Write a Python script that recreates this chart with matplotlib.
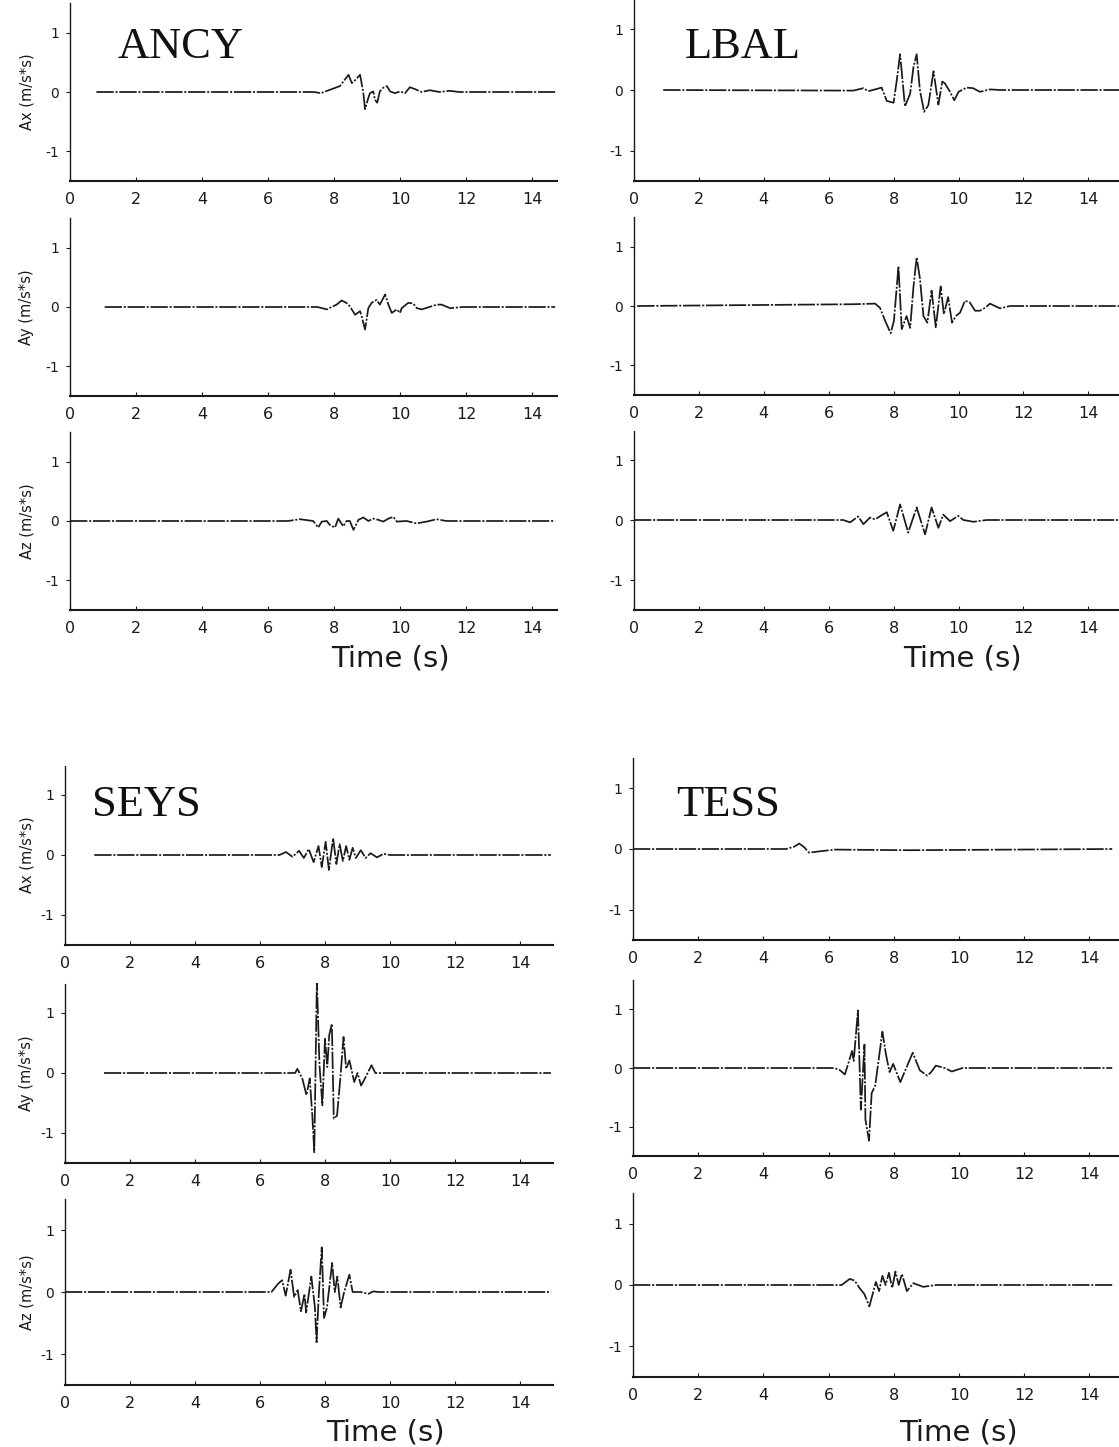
#-- COSTANTI
DPI = 100
W, H = 1119, 1447   # dimensione figura in pixel

import numpy as np
import matplotlib
matplotlib.use("Agg")
import matplotlib.pyplot as plt

plt.rcParams['axes.unicode_minus'] = False


#--------------------#
#       DATI         #
#--------------------#
# tempi (s) e accelerazioni (m/s*s)

# ANCY
ancy_ax_t = [0.8, 7.4, 7.6, 8.18, 8.29, 8.44, 8.54, 8.64, 8.79, 8.89, 8.94, 9.04, 9.09, 9.19, 9.24, 9.31, 9.39, 9.49, 9.6, 9.7, 9.85, 10.0, 10.15, 10.3, 10.45, 10.65, 10.9, 11.2, 11.5, 11.8, 14.7]
ancy_ax_a = [0, 0, -0.02, 0.1, 0.18, 0.29, 0.15, 0.2, 0.29, -0.02, -0.29, -0.1, -0.02, 0.01, -0.13, -0.18, 0.01, 0.07, 0.1, 0.01, -0.02, 0.01, -0.02, 0.08, 0.05, 0, 0.03, 0, 0.02, 0, 0]
ancy_ay_t = [1.05, 7.5, 7.78, 8.08, 8.23, 8.38, 8.48, 8.64, 8.79, 8.84, 8.94, 9.04, 9.14, 9.29, 9.39, 9.55, 9.65, 9.75, 9.9, 10.0, 10.05, 10.25, 10.4, 10.51, 10.66, 11.11, 11.26, 11.52, 11.9, 14.7]
ancy_ay_a = [0, 0, -0.04, 0.04, 0.11, 0.07, 0.01, -0.13, -0.07, -0.16, -0.38, -0.02, 0.07, 0.12, 0.04, 0.21, 0.04, -0.1, -0.04, -0.1, -0.02, 0.07, 0.06, -0.02, -0.04, 0.04, 0.04, -0.02, 0, 0]
ancy_az_t = [0.0, 6.6, 6.97, 7.37, 7.52, 7.63, 7.78, 7.88, 8.03, 8.13, 8.28, 8.38, 8.48, 8.59, 8.74, 8.89, 9.04, 9.19, 9.34, 9.49, 9.65, 9.8, 9.9, 10.2, 10.5, 10.81, 11.11, 11.41, 14.7]
ancy_az_a = [0, 0, 0.03, 0, -0.11, -0.01, 0, -0.07, -0.11, 0.04, -0.09, 0, 0, -0.15, 0.02, 0.06, 0, 0.04, 0.02, -0.01, 0.04, 0.07, -0.01, 0, -0.04, -0.01, 0.03, 0, 0]

# LBAL
lbal_ax_t = [0.9, 6.76, 7.07, 7.22, 7.43, 7.63, 7.79, 8.0, 8.1, 8.2, 8.35, 8.51, 8.61, 8.71, 8.81, 8.94, 9.07, 9.23, 9.38, 9.5, 9.58, 9.74, 9.87, 10.0, 10.25, 10.45, 10.66, 10.97, 11.28, 14.95]
lbal_ax_a = [0, -0.01, 0.03, -0.02, 0.01, 0.04, -0.18, -0.21, 0.17, 0.59, -0.27, -0.06, 0.37, 0.59, 0, -0.36, -0.25, 0.31, -0.24, 0.14, 0.11, -0.03, -0.17, -0.03, 0.04, 0.03, -0.03, 0.01, 0, 0]
lbal_ay_t = [0.1, 6.76, 7.43, 7.58, 7.74, 7.91, 8.01, 8.15, 8.25, 8.4, 8.51, 8.61, 8.71, 8.81, 8.92, 9.04, 9.17, 9.3, 9.45, 9.55, 9.68, 9.8, 9.92, 10.05, 10.2, 10.35, 10.51, 10.66, 10.82, 10.97, 11.28, 11.59, 14.95]
lbal_ay_a = [0, 0.03, 0.04, -0.03, -0.25, -0.46, -0.25, 0.67, -0.39, -0.17, -0.37, 0.31, 0.82, 0.47, -0.17, -0.28, 0.26, -0.36, 0.33, -0.14, 0.15, -0.28, -0.17, -0.11, 0.09, 0.06, -0.08, -0.08, -0.03, 0.04, -0.04, 0, 0]
lbal_az_t = [0.0, 6.45, 6.66, 6.91, 7.07, 7.27, 7.43, 7.63, 7.79, 7.99, 8.2, 8.45, 8.71, 8.97, 9.17, 9.38, 9.53, 9.74, 9.99, 10.15, 10.46, 10.87, 14.95]
lbal_az_a = [0, 0, -0.04, 0.06, -0.07, 0.04, 0.01, 0.08, 0.13, -0.18, 0.26, -0.21, 0.21, -0.24, 0.21, -0.13, 0.09, -0.02, 0.07, 0, -0.03, 0, 0]

# SEYS
seys_ax_t = [0.9, 6.6, 6.8, 7.0, 7.2, 7.35, 7.5, 7.65, 7.8, 7.9, 8.02, 8.12, 8.25, 8.35, 8.45, 8.55, 8.65, 8.75, 8.85, 8.95, 9.1, 9.25, 9.4, 9.6, 9.8, 10.0, 14.95]
seys_ax_a = [0, 0, 0.05, -0.03, 0.07, -0.05, 0.1, -0.12, 0.15, -0.2, 0.22, -0.25, 0.28, -0.15, 0.18, -0.1, 0.15, -0.08, 0.12, -0.05, 0.08, -0.05, 0.03, -0.04, 0.02, 0, 0]
seys_ay_t = [1.2, 7.08, 7.15, 7.3, 7.43, 7.53, 7.61, 7.67, 7.75, 7.83, 7.92, 8.0, 8.07, 8.13, 8.21, 8.27, 8.37, 8.47, 8.57, 8.65, 8.75, 8.9, 9.0, 9.11, 9.23, 9.43, 9.55, 14.95]
seys_ay_a = [0, 0, 0.07, -0.09, -0.37, -0.09, -0.71, -1.32, 1.55, 0.13, -0.54, 0.57, 0.1, 0.63, 0.82, -0.76, -0.71, -0.1, 0.6, 0.07, 0.21, -0.15, 0, -0.21, -0.09, 0.13, 0, 0]
seys_az_t = [0.0, 6.35, 6.57, 6.68, 6.79, 6.94, 7.05, 7.16, 7.26, 7.37, 7.42, 7.58, 7.69, 7.74, 7.81, 7.9, 7.97, 8.06, 8.22, 8.3, 8.38, 8.48, 8.59, 8.75, 8.85, 9.1, 9.33, 9.49, 9.65, 14.95]
seys_az_a = [0, 0, 0.14, 0.19, -0.06, 0.36, -0.08, 0.03, -0.31, -0.03, -0.33, 0.25, -0.25, -0.81, -0.03, 0.72, -0.42, -0.25, 0.47, 0, 0.25, -0.25, 0, 0.28, 0, 0, -0.03, 0.01, 0, 0]

# TESS
tess_ax_t = [0.0, 4.7, 4.95, 5.1, 5.25, 5.4, 5.7, 6.2, 8.5, 14.7]
tess_ax_a = [0, 0, 0.04, 0.09, 0.03, -0.06, -0.04, -0.01, -0.02, 0]
tess_ay_t = [0.0, 6.17, 6.33, 6.5, 6.72, 6.77, 6.9, 6.99, 7.1, 7.13, 7.24, 7.32, 7.43, 7.65, 7.76, 7.87, 7.98, 8.2, 8.58, 8.8, 9.02, 9.13, 9.29, 9.56, 9.78, 10.11, 14.7]
tess_ay_a = [0, 0, -0.03, -0.11, 0.29, 0.12, 0.98, -0.71, 0.4, -0.88, -1.24, -0.43, -0.3, 0.62, 0.23, -0.07, 0.07, -0.24, 0.26, -0.04, -0.13, -0.08, 0.04, 0, -0.06, 0, 0]
tess_az_t = [0.0, 6.4, 6.65, 6.8, 6.95, 7.1, 7.25, 7.35, 7.45, 7.55, 7.65, 7.75, 7.85, 7.95, 8.05, 8.15, 8.25, 8.4, 8.6, 8.9, 9.3, 14.7]
tess_az_a = [0, 0, 0.1, 0.07, -0.05, -0.15, -0.35, -0.15, 0.05, -0.1, 0.15, 0.0, 0.2, -0.05, 0.22, 0.0, 0.18, -0.1, 0.03, -0.03, 0.0, 0]

stazioni = ['ANCY', 'LBAL', 'SEYS', 'TESS']
componenti = ['Ax', 'Ay', 'Az']
tracce = {
    'ANCY': [(ancy_ax_t, ancy_ax_a), (ancy_ay_t, ancy_ay_a), (ancy_az_t, ancy_az_a)],
    'LBAL': [(lbal_ax_t, lbal_ax_a), (lbal_ay_t, lbal_ay_a), (lbal_az_t, lbal_az_a)],
    'SEYS': [(seys_ax_t, seys_ax_a), (seys_ay_t, seys_ay_a), (seys_az_t, seys_az_a)],
    'TESS': [(tess_ax_t, tess_ax_a), (tess_ay_t, tess_ay_a), (tess_az_t, tess_az_a)],
}
xticks = [0, 2, 4, 6, 8, 10, 12, 14]
yticks = [-1, 0, 1]


#--------------------#
#   GEOMETRIA (px)   #
#--------------------#
# x dello zero, px per secondo, xmax, pixel dello zero e del fondo per ogni pannello
geo = {
    'ANCY': dict(x0=70,  ux=33.0,  xmax=14.75, zero=[92, 307, 521],    fondo=[181, 396, 610]),
    'LBAL': dict(x0=634, ux=32.45, xmax=14.95, zero=[90, 306, 520],    fondo=[181, 395, 610]),
    'SEYS': dict(x0=65,  ux=32.5,  xmax=15.0,  zero=[855, 1073, 1292], fondo=[945, 1163, 1385]),
    'TESS': dict(x0=633, ux=32.6,  xmax=14.9,  zero=[849, 1068, 1285], fondo=[940, 1156, 1377]),
}
titoli_pos = {'ANCY': (118, 58), 'LBAL': (685, 58), 'SEYS': (92, 816), 'TESS': (676, 816)}
tempo_pos = [(390, 658), (962, 658), (385, 1433), (958, 1433)]

NERO = '#1a1a1a'
STILE = (0, (10, 1.0, 1.2, 1.0))   # tratteggio leggero "da scanner"


fig = plt.figure(figsize=(W/DPI, H/DPI), dpi=DPI)
fig.patch.set_facecolor('white')


def pannello(staz, i):
    g = geo[staz]
    zero, fondo = g['zero'][i], g['fondo'][i]
    uy = (fondo - zero)/1.5
    alto = fondo - 3*uy
    larg = g['xmax']*g['ux']
    ax = fig.add_axes([g['x0']/W, 1 - fondo/H, larg/W, (fondo - alto)/H])
    t, a = tracce[staz][i]
    ax.plot(t, a, color=NERO, lw=1.25, linestyle=STILE)
    ax.set_xlim(0, g['xmax'])
    ax.set_ylim(-1.5, 1.5)
    ax.set_facecolor('none')
    for s in ['top', 'right']:
        ax.spines[s].set_visible(False)
    for s in ['left', 'bottom']:
        ax.spines[s].set_linestyle(STILE)
        ax.spines[s].set_color(NERO)
    ax.spines['bottom'].set_linewidth(1.5)
    ax.spines['left'].set_linewidth(1.0)
    ax.set_xticks(xticks)
    ax.set_xticklabels([str(v) for v in xticks])
    ax.set_yticks(yticks)
    ax.set_yticklabels(['-1', '0', '1'])
    ax.tick_params(axis='x', direction='in', length=3, width=0.8, pad=8,
                   labelsize=11.5, colors=NERO)
    ax.tick_params(axis='y', direction='out', length=3, width=0.8, pad=5,
                   labelsize=10, colors=NERO)
    # etichetta asse y solo per la colonna di sinistra
    if staz in ('ANCY', 'SEYS'):
        fig.text(27/W, 1 - zero/H, componenti[i] + ' (m/s*s)', rotation=90,
                 ha='center', va='center', fontsize=10.5, color=NERO)
    return ax


for staz in stazioni:
    for i in range(3):
        pannello(staz, i)
    x, y = titoli_pos[staz]
    fig.text(x/W, 1 - y/H, staz, family='Liberation Serif', fontsize=32,
             color='#111111', ha='left', va='baseline')

for (x, y) in tempo_pos:
    fig.text(x/W, 1 - y/H, 'Time (s)', fontsize=21, color=NERO,
             ha='center', va='center')

fig.savefig('out.png', dpi=DPI, facecolor='white')
